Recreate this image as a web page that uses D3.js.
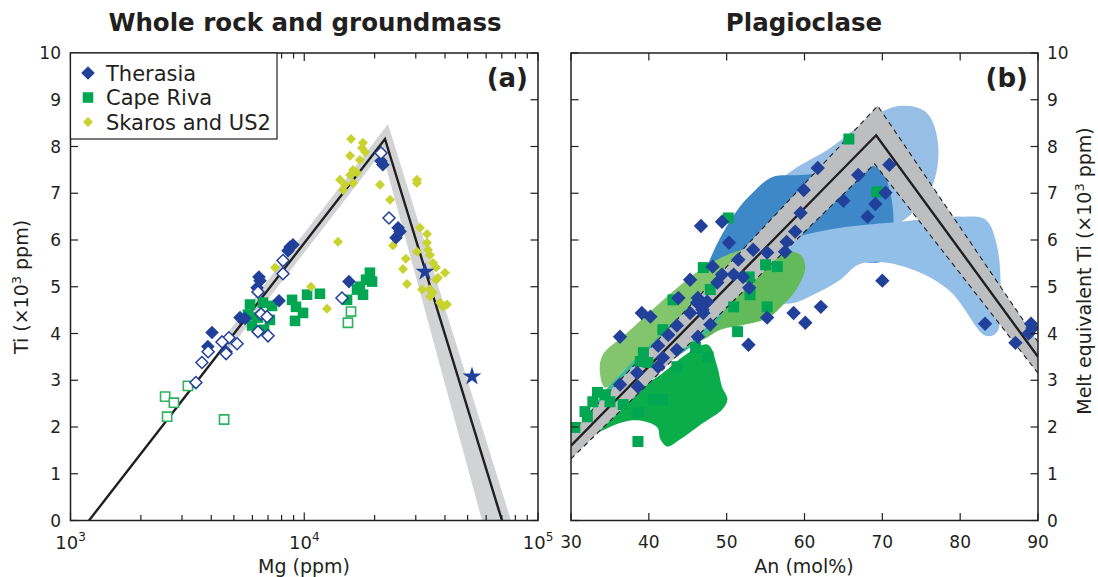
<!DOCTYPE html>
<html>
<head>
<meta charset="utf-8">
<script src="https://cdn.jsdelivr.net/npm/d3@7"></script>
<style>
  body { margin: 0; background: #fff; }
  svg { font-family: "DejaVu Sans", sans-serif; }
</style>
</head>
<body>
<div id="chart"></div>
<script>
// ---- panel (a): whole rock and groundmass, [Mg ppm, Ti x10^3 ppm]
const therasiaA = [[8690,5.85],[8950,5.90],[8520,5.77],[6400,5.21],[6470,5.13],[6280,4.98],[7800,4.70],
  [5310,4.34],[5580,4.32],[4030,4.02],[3870,3.72],[4630,3.61],[15530,5.11],[21300,7.69],[21700,7.61],
  [25200,6.26],[25700,6.18],[24700,6.05]];
const therasiaAOpen = [[21300,7.86],[23050,6.47],[14500,4.76],[8110,5.56],[8110,5.28],[6340,4.89],[6530,4.42],
  [6930,4.36],[6340,4.04],[7000,3.95],[4760,3.91],[4450,3.82],[5160,3.78],[4630,3.57],[3880,3.61],
  [3650,3.38],[3440,2.95]];
const therasiaStars = [[32860,5.32],[52200,3.08]];
const capeRivaA = [[5860,4.62],[6660,4.66],[7280,4.59],[5740,4.40],[6340,4.34],[7130,4.29],[5980,4.17],
  [6730,4.08],[8870,4.72],[10280,4.83],[11670,4.85],[9220,4.57],[9880,4.44],[9130,4.27],[19100,5.30],
  [19500,5.11],[17300,5.00],[17840,4.83],[16820,4.94],[15240,4.72],[18380,5.15]];
const capeRivaAOpen = [[15850,4.47],[15380,4.23],[3180,2.88],[2540,2.65],[2770,2.52],[2590,2.22],[4540,2.16]];
const skarosA = [[15850,8.16],[17830,8.08],[17660,7.97],[18200,7.88],[15700,7.80],[17300,7.71],[16170,7.50],
  [16820,7.44],[15700,7.39],[14220,7.29],[14930,7.18],[14650,7.07],[16170,7.22],[21090,7.18],[30350,7.29],
  [30350,7.22],[23280,6.86],[13940,5.96],[31280,6.26],[33500,6.13],[33500,5.94],[33830,5.79],[30350,5.75],
  [34510,5.68],[35560,5.51],[36630,5.41],[40000,5.30],[37340,5.19],[27520,5.06],[26450,5.38],[27200,5.60],
  [23960,5.88],[31910,4.94],[34510,4.94],[35560,4.87],[34510,4.79],[38100,4.66],[39220,4.57],[40800,4.62],
  [12510,4.53],[7500,5.41],[10690,5.00],[36630,5.15]];
const trendA = [[1200,0],[22150,8.16],[70150,0]];
const bandA = [[4361,3.80],[22820,8.48],[76630,0],[57600,0],[21510,7.88],[4764,3.65]];

// ---- panel (b): plagioclase, [An mol%, melt Ti x10^3 ppm]
const therasiaB = [[61.7,7.54],[59.9,7.07],[59.5,6.58],[58.8,6.18],[57.7,5.96],[57.5,5.75],[55.2,5.73],
  [53.4,5.79],[51.5,5.58],[50.3,5.94],[49.4,6.39],[46.7,6.30],[48.2,5.43],[49.4,5.26],[50.9,5.26],
  [52.1,5.21],[48.8,5.09],[52.9,4.98],[45.3,5.15],[43.8,4.76],[46.3,4.76],[47.5,4.68],[46.9,4.51],
  [45.3,4.44],[39.1,4.44],[40.2,4.36],[62.1,4.57],[58.6,4.44],[60.1,4.23],[55.2,4.34],[66.9,7.39],
  [70.9,7.61],[70.4,7.01],[69.1,6.77],[65.0,6.84],[68.1,6.50],[70.0,5.13],[83.2,4.21],[87.1,3.80],
  [89.1,4.21],[88.8,4.00],[89.3,4.12],[36.3,3.93],[43.6,4.17],[42.5,3.97],[41.2,3.74],[43.6,3.65],
  [46.3,3.93],[47.9,4.19],[47.0,4.44],[46.2,4.66],[41.8,3.48],[41.2,3.29],[38.5,3.16],[36.3,2.91],
  [38.6,2.86],[52.8,3.76]];
const capeRivaB = [[65.7,8.16],[69.3,7.03],[50.2,6.47],[47.0,5.41],[55.0,5.47],[56.5,5.43],[52.9,5.21],
  [53.0,4.83],[47.9,4.94],[43.1,4.72],[55.2,4.57],[50.9,4.57],[51.4,4.04],[41.8,4.08],[47.6,3.50],
  [46.0,3.70],[43.6,3.29],[38.9,3.40],[39.9,3.38],[33.4,2.74],[32.8,2.54],[32.1,2.22],[30.5,1.99],
  [35.0,2.54],[36.7,2.48],[40.6,2.59],[41.8,2.59],[38.6,2.31],[38.6,1.69],[34.4,2.69],[31.8,2.33],
  [39.3,3.59]];
const trendB = [[30,1.60],[69.2,8.24],[90,3.50]];
const bandUpperB = [[30,1.88],[69.4,8.87],[90,3.82]];
const bandLowerB = [[30,1.32],[69.0,7.63],[90,3.15]];

// compositional fields behind the plagioclase data
const fieldLightBlue1 = [[54.3,6.86],[58.2,7.46],[63.3,7.97],[68.5,8.61],[72.3,8.87],[75.6,8.74],[77.1,8.14],
  [76.7,7.29],[74.3,6.65],[71.1,6.26],[65.9,6.00],[59.5,5.90],[55.6,6.00]];
const fieldMidBlue = [[46.6,4.89],[48.1,5.68],[51.1,6.58],[53.7,7.07],[55.9,7.35],[59.5,7.39],[63.3,7.46],
  [67.2,7.61],[69.8,7.50],[71.2,6.86],[71.3,6.00],[70.4,5.58],[67.8,5.53],[65.3,5.79],[59.5,5.83],
  [54.3,5.53],[49.8,4.94],[47.2,4.72]];
const fieldLightBlue2 = [[52.4,5.41],[55.6,5.90],[59.5,6.09],[64.6,6.26],[72.3,6.39],[80.1,6.50],[83.3,6.43],
  [84.7,5.90],[85.2,4.94],[84.7,4.02],[83.3,3.95],[78.8,4.89],[74.3,5.34],[69.8,5.53],[66.9,5.47],
  [64.6,5.15],[61.4,4.85],[58.2,4.64],[55.0,4.72]];
const fieldLightGreen = [[33.7,3.18],[34.1,3.55],[36.9,3.97],[40.2,4.47],[43.0,4.89],[46.6,5.36],[50.5,5.71],
  [53.7,5.83],[55.0,5.75],[54.3,5.47],[51.8,5.19],[47.9,4.72],[44.0,4.25],[40.2,3.70],[36.9,3.23],[34.4,2.84]];
const fieldMidGreen = [[53.3,5.75],[56.9,5.79],[59.5,5.68],[60.1,5.41],[59.1,4.98],[57.3,4.62],[55.4,4.34],
  [52.4,4.19],[49.2,4.08],[46.6,3.87],[45.9,4.19],[48.5,4.72],[51.1,5.26]];
const fieldTeal = [[32.2,2.20],[33.7,2.63],[36.9,3.23],[40.2,3.76],[43.4,4.29],[46.6,4.76],[48.9,4.94],
  [50.2,4.72],[49.2,4.34],[47.2,3.97],[45.3,3.70],[42.7,3.40],[40.2,3.06],[36.9,2.59],[34.4,2.16],[32.4,1.94]];
const fieldDarkGreen = [[33.7,2.16],[37.6,2.69],[41.5,3.12],[45.3,3.61],[47.6,3.76],[48.8,3.29],[49.4,2.86],
  [50.1,2.59],[49.4,2.37],[47.0,2.09],[44.0,1.73],[42.4,1.58],[41.5,1.73],[41.1,1.99],[39.5,2.12],
  [37.6,2.14],[35.7,2.05],[33.7,1.90],[32.4,1.79]];

const yTicks = [0,1,2,3,4,5,6,7,8,9,10];
const xTicksB = [30,40,50,60,70,80,90];
const legendItems = ["Therasia", "Cape Riva", "Skaros and US2"];

const BLUE = "#21409a", GREEN = "#00a651", YELLOW = "#c8d32f", INK = "#231f20";

const svg = d3.select("#chart").append("svg")
  .attr("width", 1098).attr("height", 577);

const yScale = d3.scaleLinear().domain([0, 10]).range([520.5, 53]);
const xa = d3.scaleLog().domain([1e3, 1e5]).range([70.5, 538]);
const xb = d3.scaleLinear().domain([30, 90]).range([571, 1038]);

const diamond = r => `M0,${-r}L${r},0L0,${r}L${-r},0Z`;
const square = s => `M${-s},${-s}H${s}V${s}H${-s}Z`;

// clip paths
const defs = svg.append("defs");
defs.append("clipPath").attr("id", "clipA").append("rect")
  .attr("x", 70.5).attr("y", 53).attr("width", 538 - 70.5).attr("height", 520.5 - 53);
defs.append("clipPath").attr("id", "clipB").append("rect")
  .attr("x", 571).attr("y", 53).attr("width", 1038 - 571).attr("height", 520.5 - 53);

// ================= panel (a)
const gA = svg.append("g").attr("clip-path", "url(#clipA)");
gA.append("path")
  .attr("d", d3.line().x(d => xa(d[0])).y(d => yScale(d[1]))(bandA) + "Z")
  .attr("fill", "#d1d3d4");
gA.append("path")
  .attr("d", d3.line().x(d => xa(d[0])).y(d => yScale(d[1]))(trendA))
  .attr("fill", "none").attr("stroke", INK).attr("stroke-width", 2.4);

function marks(g, data, xs, shape, fill, stroke, sw) {
  g.selectAll(null).data(data).join("path")
    .attr("transform", d => `translate(${xs(d[0])},${yScale(d[1])})`)
    .attr("d", shape)
    .attr("fill", fill)
    .attr("stroke", stroke || "none")
    .attr("stroke-width", sw || 0);
}

marks(gA, capeRivaA, xa, square(5.3), GREEN);
marks(gA, capeRivaAOpen, xa, square(4.6), "#fff", "#2bb35e", 1.6);
marks(gA, skarosA, xa, diamond(5), YELLOW);
marks(gA, therasiaA, xa, diamond(6.8), BLUE);
marks(gA, therasiaAOpen, xa, diamond(6), "#fff", BLUE, 1.5);
marks(gA, therasiaStars, xa, d3.symbol(d3.symbolStar, 110)(), BLUE);

// ================= panel (b)
const gB = svg.append("g").attr("clip-path", "url(#clipB)");
const fieldLine = d3.line().x(d => xb(d[0])).y(d => yScale(d[1])).curve(d3.curveCatmullRomClosed.alpha(0.5));
[
  [fieldLightBlue1, "#97bfe6"],
  [fieldMidBlue, "#3f88c8"],
  [fieldLightBlue2, "#92bfe7"],
  [fieldLightGreen, "#83c56d"],
  [fieldMidGreen, "#63ba5a"],
  [fieldTeal, "#3dba96"],
  [fieldDarkGreen, "#0bad4b"]
].forEach(([pts, col]) => {
  gB.append("path").attr("d", fieldLine(pts)).attr("fill", col);
});

const lineB = d3.line().x(d => xb(d[0])).y(d => yScale(d[1]));
gB.append("path")
  .attr("d", lineB(bandUpperB.concat(bandLowerB.slice().reverse())) + "Z")
  .attr("fill", "#bcbec0");
[bandUpperB, bandLowerB].forEach(b => {
  gB.append("path").attr("d", lineB(b))
    .attr("fill", "none").attr("stroke", INK).attr("stroke-width", 1.1)
    .attr("stroke-dasharray", "5,4");
});
gB.append("path").attr("d", lineB(trendB))
  .attr("fill", "none").attr("stroke", INK).attr("stroke-width", 2.4);

marks(gB, capeRivaB, xb, square(5.5), GREEN);
marks(gB, therasiaB, xb, diamond(7.2), BLUE);

// ================= frames, ticks and labels
function frame(x0, x1) {
  svg.append("rect").attr("x", x0).attr("y", 53).attr("width", x1 - x0).attr("height", 520.5 - 53)
    .attr("fill", "none").attr("stroke", INK).attr("stroke-width", 1.5);
}
frame(70.5, 538);
frame(571, 1038);

function tick(x1, y1, x2, y2) {
  svg.append("line").attr("x1", x1).attr("y1", y1).attr("x2", x2).attr("y2", y2)
    .attr("stroke", INK).attr("stroke-width", 1.2);
}

// y ticks on both panels
yTicks.forEach(t => {
  const y = yScale(t);
  tick(70.5, y, 78, y); tick(538, y, 530.5, y);
  tick(571, y, 578.5, y); tick(1038, y, 1030.5, y);
  svg.append("text").attr("x", 61).attr("y", y).attr("dy", "0.36em")
    .attr("text-anchor", "end").attr("font-size", 17).attr("fill", INK).text(t);
  svg.append("text").attr("x", 1047).attr("y", y).attr("dy", "0.36em")
    .attr("text-anchor", "start").attr("font-size", 17).attr("fill", INK).text(t);
});

// log ticks panel (a)
const minorA = [];
[1e3, 1e4].forEach(dec => { for (let k = 2; k <= 9; k++) minorA.push(dec * k); });
minorA.forEach(v => {
  const x = xa(v);
  tick(x, 520.5, x, 515); tick(x, 53, x, 58.5);
});
[1e3, 1e4, 1e5].forEach((v, i) => {
  const x = xa(v);
  tick(x, 520.5, x, 512.5); tick(x, 53, x, 61);
  const t = svg.append("text").attr("x", x).attr("y", 549)
    .attr("text-anchor", "middle").attr("font-size", 18).attr("fill", INK);
  t.append("tspan").text("10");
  t.append("tspan").attr("dy", -8).attr("font-size", 12).text(3 + i);
});

// linear ticks panel (b)
xTicksB.forEach(v => {
  const x = xb(v);
  tick(x, 520.5, x, 513); tick(x, 53, x, 60.5);
  svg.append("text").attr("x", x).attr("y", 548)
    .attr("text-anchor", "middle").attr("font-size", 17).attr("fill", INK).text(v);
});

// axis titles
svg.append("text").attr("x", 304).attr("y", 573).attr("text-anchor", "middle")
  .attr("font-size", 19).attr("fill", INK).text("Mg (ppm)");
svg.append("text").attr("x", 804).attr("y", 573).attr("text-anchor", "middle")
  .attr("font-size", 19).attr("fill", INK).text("An (mol%)");

const yl = svg.append("text").attr("transform", "translate(28,287) rotate(-90)")
  .attr("text-anchor", "middle").attr("font-size", 19).attr("fill", INK);
yl.append("tspan").text("Ti (\u00d710");
yl.append("tspan").attr("dy", -7).attr("font-size", 13).text("3");
yl.append("tspan").attr("dy", 7).text(" ppm)");

const yr = svg.append("text").attr("transform", "translate(1091,271) rotate(-90)")
  .attr("text-anchor", "middle").attr("font-size", 19).attr("fill", INK);
yr.append("tspan").text("Melt equivalent Ti (\u00d710");
yr.append("tspan").attr("dy", -7).attr("font-size", 13).text("3");
yr.append("tspan").attr("dy", 7).text(" ppm)");

// panel titles and letters
svg.append("text").attr("x", 305).attr("y", 31).attr("text-anchor", "middle")
  .attr("font-size", 24.5).attr("font-weight", "bold").attr("fill", INK).text("Whole rock and groundmass");
svg.append("text").attr("x", 804).attr("y", 31).attr("text-anchor", "middle")
  .attr("font-size", 24.5).attr("font-weight", "bold").attr("fill", INK).text("Plagioclase");
svg.append("text").attr("x", 528).attr("y", 87).attr("text-anchor", "end")
  .attr("font-size", 26).attr("font-weight", "bold").attr("fill", INK).text("(a)");
svg.append("text").attr("x", 1028).attr("y", 87).attr("text-anchor", "end")
  .attr("font-size", 26).attr("font-weight", "bold").attr("fill", INK).text("(b)");

// legend
const lg = svg.append("g");
lg.append("rect").attr("x", 70.5).attr("y", 53).attr("width", 206.5).attr("height", 86)
  .attr("fill", "#fff").attr("stroke", INK).attr("stroke-width", 1.2);
const legendShapes = [[diamond(6.8), BLUE], [square(5.3), GREEN], [diamond(5), YELLOW]];
legendItems.forEach((name, i) => {
  const y = 73 + i * 24.5;
  lg.append("path").attr("transform", `translate(88,${y})`)
    .attr("d", legendShapes[i][0]).attr("fill", legendShapes[i][1]);
  lg.append("text").attr("x", 106).attr("y", y).attr("dy", "0.36em")
    .attr("font-size", 21).attr("fill", INK).text(name);
});
</script>
</body>
</html>
